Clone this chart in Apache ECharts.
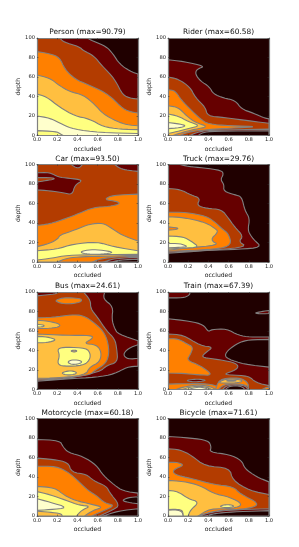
<!DOCTYPE html>
<html><head><meta charset="utf-8">
<style>html,body{margin:0;padding:0;background:#fff}#c{width:299px;height:547px;filter:blur(0.3px)}</style>
<script src="https://cdn.jsdelivr.net/npm/echarts@6/dist/echarts.min.js"></script>
</head><body><div id="c"></div>
<script>
// Each contour: [level, [[occluded, depth], ...]]; painted in order over the level-0 background.
const personContours = [
 [1,[[.5,100],[.55,97],[.69,91],[.75,84],[.82,73],[.92,66],[1,63],[1,0],[0,0],[0,100]]],
 [2,[[.225,100],[.26,96],[.42,91],[.46,87],[.56,82],[.64,72],[.77,58],[.85,41],[.94,38],[1,37.5],[1,0],[0,0],[0,100]]],
 [3,[[0,86],[.125,84],[.225,80],[.275,68],[.375,58],[.505,52],[.64,46],[.74,39],[.855,27],[.94,24],[1,23],[1,0],[0,0]]],
 [4,[[0,62],[.125,59],[.225,51],[.325,45],[.46,41.5],[.57,32],[.655,22],[.79,14.5],[.89,11],[1,10],[1,0],[0,0]]],
 [5,[[0,42.5],[.09,40],[.225,29],[.375,20],[.52,17],[.655,9],[.82,6.5],[1,6],[1,0],[0,0]]],
 [6,[[0,20],[.125,18],[.26,11],[.36,6.5],[.62,3],[1,2],[1,0],[0,0]]],
 [5,[[0,5],[.19,4],[.225,2],[.26,0],[0,0]]]
];
const riderContours = [
 [1,[[0,77.7],[.15,76],[.37,71],[.285,68],[.27,63],[.32,56],[.41,50],[.45,42.5],[.55,38.5],[.665,36],[.73,27],[.845,23],[.94,18.5],[1,17],[1,0],[0,0]]],
 [2,[[0,60],[.1,58],[.22,49.5],[.27,39],[.37,29],[.39,20],[.55,18.5],[.81,15],[1,12.5],[1,0],[0,0]]],
 [3,[[0,47],[.07,46],[.135,36],[.22,27],[.32,17],[.4,11.7],[.61,10],[.91,9],[.61,7.5],[.32,5.5],[.185,3],[.12,0],[0,0]]],
 [4,[[0,30.5],[.1,29],[.185,20],[.27,13.4],[.4,9],[.27,6.5],[.135,3],[.05,0],[0,0]]],
 [5,[[0,22],[.1,20],[.2,14.4],[.32,10],[.2,7],[.085,4],[0,2]]],
 [6,[[0,13.4],[.12,11.7],[.18,10],[.12,8],[0,7]]],
 [1,[[.22,0],[.28,3],[.4,5.5],[1,6.5],[1,0]]],
 [0,[[.3,0],[.34,3],[.45,4.5],[1,4.8],[1,0]]]
];
const carContours = [
 [2,[[0,100],[1,100],[1,0],[0,0]]],
 [1,[[.77,100],[.82,96],[.9,94],[1,93],[1,100]]],
 [1,[[.34,100],[.38,97],[.42,96.5],[.45,100]]],
 [1,[[0,91.5],[.125,92],[.21,87],[.31,86],[.46,84],[.375,79],[.35,69],[.26,71],[.125,73],[0,74]]],
 [2,[[0,86.5],[.16,86.5],[.175,85],[.09,83.5],[0,82]]],
 [3,[[0,37.5],[.125,39],[.29,44.7],[.42,50],[.56,56],[.72,57],[.82,59.5],[.8,62],[.66,64],[.75,68.6],[1,69.6],[1,0],[0,0]]],
 [4,[[0,15.7],[.125,19],[.21,24],[.225,27.6],[.375,32.8],[.52,39],[.655,40],[.74,34.5],[.84,27.6],[1,21.5],[1,0],[0,0]]],
 [5,[[0,11.6],[.19,13],[.36,18.4],[.59,20.8],[.755,15.7],[1,11.6],[1,0],[0,0]]],
 [6,[[.42,10],[.5,12.5],[.62,12.5],[.77,10],[.65,8],[.5,8]]],
 [4,[[0,2],[.15,4],[.3,7],[.6,7.5],[1,8],[1,0],[0,0]]],
 [3,[[.2,0],[.3,4],[.45,5.5],[.7,6],[1,7],[1,0]]],
 [2,[[.55,0],[.62,3],[.75,5],[1,6],[1,0]]],
 [1,[[.66,0],[.75,3],[.85,4],[1,5],[1,0]]],
 [0,[[.74,0],[.82,2],[1,3],[1,0]]]
];
const truckContours = [
 [1,[[.12,100],[.2,98],[.35,96.5],[.53,94],[.55,90],[.52,84.5],[.555,79.5],[.55,72.6],[.66,69],[.73,67],[.76,53],[.81,44.7],[.79,32.8],[.82,27],[.85,23],[.93,15],[.7,13],[.4,12],[0,9],[0,100]]],
 [2,[[0,75.4],[.12,74.4],[.23,68.6],[.32,65.5],[.285,58],[.38,55],[.53,54],[.6,44.7],[.66,36],[.745,26.6],[.7,20.8],[.78,15.7],[.48,12.3],[0,10]]],
 [3,[[0,51],[.18,51],[.38,47],[.465,41],[.53,34.5],[.6,29],[.63,17.4],[.48,13],[0,11]]],
 [4,[[0,46.4],[.15,45.7],[.37,40.6],[.465,34.5],[.5,31],[.415,22.5],[.515,17.4],[.15,14],[0,12]]],
 [3,[[0,36],[.1,35],[.09,33.5],[0,32.5]]],
 [5,[[0,26.6],[.15,26],[.235,21],[.31,15],[.15,14.3],[0,13.3]]],
 [6,[[0,19],[.12,19],[.2,15.7],[.12,15],[0,14.5]]]
];
const busContours = [
 [1,[[.67,100],[.655,93],[.755,85],[.74,72],[.77,62],[.805,57],[1,50],[1,24],[.89,23],[.77,16],[.59,12.5],[.3,11],[0,8.5],[0,100]]],
 [0,[[1,46],[.9,42],[.85,35.6],[.9,31],[1,32]]],
 [2,[[0,96],[.19,98],[.21,100],[.46,100],[.53,91.5],[.53,83],[.6,74],[.69,60],[.77,52],[.79,42],[.8,28],[.69,24.6],[.62,18],[.29,11],[0,9.5]]],
 [3,[[.17,91],[.25,94],[.35,94],[.44,93],[.44,90],[.35,88],[.25,88]]],
 [3,[[0,73.5],[.16,74],[.34,76.7],[.46,76],[.56,69],[.655,60],[.7,50],[.715,36.6],[.68,26.4],[.57,19.5],[.52,14.4],[.125,11],[0,10.5]]],
 [4,[[0,71],[.12,70],[.23,67],[.22,64],[.1,62.5],[0,62.5]]],
 [5,[[0,67],[.07,66],[.07,64.5],[0,64]]],
 [4,[[0,57],[.29,55.5],[.54,55.5],[.555,52.7],[.46,47],[.59,46],[.64,38],[.62,28],[.52,23],[.48,14.4],[.125,11.5],[0,11.5]]],
 [5,[[0,54.5],[.1,54],[.2,51],[.1,48],[0,48]]],
 [5,[[.2,42],[.29,43.5],[.49,42.5],[.53,36.6],[.52,30],[.46,24.6],[.26,23.6],[.2,26.4],[.225,35]]],
 [4,[[.33,39.5],[.37,40.5],[.4,39.5],[.37,38.3]]],
 [6,[[.3,28],[.34,30.5],[.42,30],[.45,28],[.4,26],[.34,25.7]]],
 [5,[[.24,17],[.3,19],[.36,19],[.4,17],[.35,15],[.28,15]]]
];
const trainContours = [
 [1,[[0,94],[.15,94],[.21,96.5],[.22,100],[0,100]]],
 [1,[[.85,78.4],[.93,80],[1,81],[1,78],[.93,77.5]]],
 [1,[[0,72.6],[.22,70],[.35,66.5],[.4,59],[.43,61.6],[.58,62.3],[.7,55.5],[.81,53.8],[1,53.8],[1,0],[0,0]]],
 [0,[[1,51.4],[.8,51],[.7,48],[.6,41],[.56,35],[.6,31],[.75,26],[1,23]]],
 [2,[[0,57],[.15,56],[.32,45],[.45,43.5],[.37,37.7],[.33,33],[.45,31.5],[.65,28],[.7,24],[.67,20],[.56,16],[.6,15],[.8,14],[.87,7],[1,4],[1,0],[0,0]]],
 [3,[[0,52],[.1,52],[.185,47],[.25,43.5],[.22,35.6],[.185,30],[.32,24.6],[.45,14.5],[.3,15],[.15,16.5],[0,17]]],
 [1,[[.18,9.3],[.25,10.5],[.33,10.5],[.38,9.3],[.3,8],[.23,8]]],
 [3,[[0,5.5],[.15,6],[.4,6],[.5,3],[.52,0],[0,0]]],
 [4,[[.08,0],[.15,2.5],[.3,5],[.42,3],[.47,0]]],
 [5,[[.14,0],[.2,2],[.3,3.5],[.4,2],[.43,0]]],
 [6,[[.2,0],[.26,1.8],[.33,2.5],[.38,1],[.4,0]]],
 [3,[[.47,0],[.49,6],[.52,10],[.6,12],[.72,11.5],[.78,8],[.8,4],[.78,0]]],
 [4,[[.5,7],[.55,10],[.62,11],[.72,10],[.74,8],[.65,6.5],[.55,6.5]]],
 [5,[[.57,9],[.62,9.8],[.69,9],[.62,8.3]]],
 [2,[[.5,0],[.55,5],[.68,6],[.79,4],[.8,0]]],
 [1,[[.54,0],[.58,4],[.68,5],[.77,3.5],[.79,0]]],
 [0,[[.57,0],[.6,3],[.68,4],[.74,2.5],[.76,0]]],
 [3,[[.93,0],[.97,2],[1,2.5],[1,0]]]
];
const motorcycleContours = [
 [1,[[0,78.5],[.225,77.5],[.26,70.6],[.31,65],[.457,61],[.59,52],[.655,41.6],[.77,31.4],[.854,25.6],[1,23.5],[1,0],[0,0]]],
 [0,[[.84,16],[.9,18.8],[1,19.8],[1,12.6],[.9,14]]],
 [0,[[.655,0],[.8,5],[1,7.5],[1,0]]],
 [2,[[0,59.4],[.16,58],[.31,55],[.34,45],[.49,42.7],[.556,36.5],[.69,30.4],[.715,24.6],[.82,11],[.755,6.5],[.62,0],[0,0]]],
 [3,[[0,51],[.19,51],[.31,45],[.42,34.8],[.507,26],[.59,21],[.67,13.3],[.77,11],[.67,5.8],[.54,0],[0,0]]],
 [4,[[0,30.4],[.175,29],[.275,21],[.374,16],[.54,12],[.655,9],[.556,5.8],[.47,0],[0,0]]],
 [5,[[0,25],[.125,22],[.29,16],[.42,11],[.53,10],[.44,5.8],[.39,0],[.25,0],[.24,2.4],[.125,4],[0,5]]],
 [6,[[0,17.7],[.125,14.3],[.31,8.5],[.125,6.5],[0,5.8]]]
];
const bicycleContours = [
 [1,[[0,81.6],[.22,80],[.4,77.5],[.43,70.6],[.41,65.5],[.61,63],[.73,57],[.76,48.5],[.88,40],[1,35],[1,0],[0,0]]],
 [2,[[0,69],[.12,68],[.235,62],[.366,51],[.61,49.5],[.64,36.5],[.81,26],[1,22],[1,7],[.7,6],[.5,4],[.4,2],[.35,0],[0,0]]],
 [3,[[0,55],[.1,55],[.16,52],[.06,48],[.05,44],[.12,41],[.25,38],[.45,32.4],[.65,30],[.71,23],[.91,12.6],[.81,7.5],[.48,5.8],[.32,.7],[.3,0],[0,0]]],
 [4,[[0,36.5],[.15,35.5],[.32,31.4],[.45,23],[.61,19.5],[.746,12],[.65,7.5],[.41,7.5],[.3,0],[0,0]]],
 [5,[[0,26.3],[.1,25],[.2,17.7],[.31,14.3],[.22,5.8],[.2,0],[.15,0],[.145,5.8],[.086,7],[0,6.5]]],
 [6,[[0,6],[.086,6.3],[.14,4.5],[.15,0],[0,0]]],
 [5,[[.51,10],[.56,11.5],[.62,11.5],[.66,10],[.6,8.5],[.55,8.7]]],
 [1,[[.3,0],[.38,2.5],[.5,5],[.7,6.5],[1,7.5],[1,0]]],
 [0,[[.37,0],[.42,1.5],[.5,3],[.7,4.5],[1,5.5],[1,0]]]
];
const titles = ['Person (max=90.79)','Rider (max=60.58)','Car (max=93.50)','Truck (max=29.76)','Bus (max=24.61)','Train (max=67.39)','Motorcycle (max=60.18)','Bicycle (max=71.61)'];
const panels = [personContours,riderContours,carContours,truckContours,busContours,trainContours,motorcycleContours,bicycleContours];
const levelColors = ['#200000','#660000','#b33c00','#ff8000','#ffbf40','#ffff80','#ffffcc'];

const font = '"DejaVu Sans"';
const lefts = [37,168], tops = [38,164.5,292,418.5], W = 101, H = 97.5, FRAME='#808080';
const grids=[],xAxes=[],yAxes=[],series=[],titleOpts=[];
// Rounds the drawn outline (corner cutting in pixels); vertices on the plot frame stay put.
function rounded(data,pix,passes){
  const onFrame=d=>d[0]===0||d[0]===1||d[1]===0||d[1]===100;
  let pts=pix.map((p,i)=>({p,fix:onFrame(data[i])}));
  for(let n=0;n<passes;n++){
    const out=[];
    pts.forEach((a,i)=>{
      const prev=pts[(i-1+pts.length)%pts.length], next=pts[(i+1)%pts.length];
      if(a.fix){out.push(a);return;}
      const mix=(b)=>[a.p[0]*.75+b.p[0]*.25,a.p[1]*.75+b.p[1]*.25];
      out.push({p:mix(prev),fix:false},{p:mix(next),fix:false});
    });
    pts=out;
  }
  return pts.map(o=>o.p);
}
panels.forEach((contours,i)=>{
  const left=lefts[i%2], top=tops[Math.floor(i/2)];
  grids.push({left,top,width:W,height:H,show:true,backgroundColor:levelColors[0],borderWidth:0});
  titleOpts.push({text:titles[i],left:left+W/2,top:top-9,textAlign:'center',padding:0,textStyle:{fontFamily:font,fontSize:7.4,fontWeight:'normal',color:'#111'}});
  const line={show:true,onZero:false,lineStyle:{color:FRAME,width:1.2}};
  const tick={show:true,inside:true,length:1.5,lineStyle:{color:'#333',width:.5}};
  xAxes.push({gridIndex:i,type:'value',min:0,max:1,interval:.2,position:'bottom',z:6,splitLine:{show:false},axisLine:line,axisTick:tick,
    name:'occluded',nameLocation:'middle',nameGap:10.5,nameTextStyle:{fontFamily:font,fontSize:6.1,color:'#222'},
    axisLabel:{margin:2,fontFamily:font,fontSize:5.2,color:'#222',formatter:v=>v.toFixed(1)}});
  xAxes.push({gridIndex:i,type:'value',min:0,max:1,interval:.2,position:'top',z:6,splitLine:{show:false},axisLine:line,axisTick:tick,axisLabel:{show:false}});
  yAxes.push({gridIndex:i,type:'value',min:0,max:100,interval:20,position:'left',z:6,splitLine:{show:false},axisLine:line,axisTick:tick,
    name:'depth',nameLocation:'middle',nameGap:16,nameTextStyle:{fontFamily:font,fontSize:6.1,color:'#222'},
    axisLabel:{margin:2,fontFamily:font,fontSize:5.2,color:'#222'}});
  yAxes.push({gridIndex:i,type:'value',min:0,max:100,interval:20,position:'right',z:6,splitLine:{show:false},axisLine:line,axisTick:tick,axisLabel:{show:false}});
  series.push({type:'custom',xAxisIndex:2*i,yAxisIndex:2*i,coordinateSystem:'cartesian2d',clip:true,silent:true,z:3,
    data:contours.map((c,k)=>[c[1][0][0],c[1][0][1],k]),encode:{x:0,y:1},
    renderItem:(p,api)=>{
      const c=contours[p.dataIndex];
      return {type:'polygon',shape:{points:rounded(c[1],c[1].map(q=>api.coord(q)),2)},
        style:{fill:levelColors[c[0]],stroke:FRAME,lineWidth:1.1}};
    }});
});
const chart=echarts.init(document.getElementById('c'),null,{renderer:'canvas',width:299,height:547});
chart.setOption({animation:false,backgroundColor:'#fff',title:titleOpts,grid:grids,xAxis:xAxes,yAxis:yAxes,series});
</script></body></html>
